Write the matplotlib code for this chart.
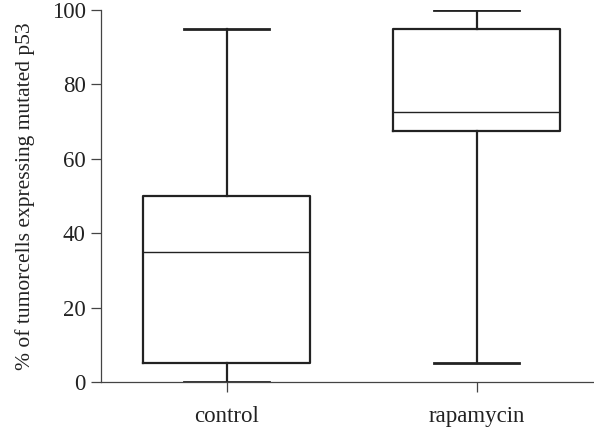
import matplotlib
matplotlib.use("Agg")
import matplotlib.pyplot as plt

# box stats (% of tumour cells)
groups = ["control", "rapamycin"]
whislo = [0, 5]
q1 = [5, 67.5]
med = [35, 72.5]
q3 = [50, 95]
whishi = [95, 100]

plt.rcParams["font.family"] = ["Liberation Serif", "DejaVu Serif"]

fig = plt.figure(figsize=(5.94, 4.32), dpi=100)
ax = fig.add_axes([0.170, 0.1157, 0.830, 0.8613])

stats = [dict(label=g, whislo=a, q1=b, med=c, q3=d, whishi=e)
         for g, a, b, c, d, e in zip(groups, whislo, q1, med, q3, whishi)]
ax.bxp(stats, positions=[1, 2], widths=0.668, capwidths=0.34, showfliers=False,
       boxprops=dict(color="#222222", lw=1.6),
       whiskerprops=dict(color="#222222", lw=1.6),
       capprops=dict(color="#222222", lw=2.0),
       medianprops=dict(color="#222222", lw=1.0))

ax.set_xlim(0.496, 2.47)
ax.set_ylim(0, 100)
ax.set_yticks([0, 20, 40, 60, 80, 100])
ax.set_ylabel("% of tumorcells expressing mutated p53", fontsize=15.5,
              color="#222222", labelpad=12)
ax.spines["top"].set_visible(False)
ax.spines["right"].set_visible(False)
for s in ("left", "bottom"):
    ax.spines[s].set_color("#444444")
    ax.spines[s].set_linewidth(0.9)
ax.spines["bottom"].set_clip_on(False)
ax.tick_params(axis="both", labelsize=16.5, length=7, width=0.9, color="#444444",
               labelcolor="#222222")
ax.tick_params(axis="y", pad=4)
ax.tick_params(axis="x", pad=10)

fig.savefig("out.png", dpi=100)
